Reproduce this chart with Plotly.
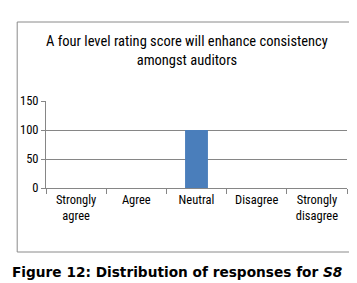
import plotly.graph_objects as go

categories = ["Strongly<br>agree", "Agree", "Neutral", "Disagree", "Strongly<br>disagree"]
values = [0, 0, 100, 0, 0]
y_ticks = [0, 50, 100, 150]
title_text = "A four level rating score will enhance consistency<br>amongst auditors"
caption_text = "<b>Figure 12: Distribution of responses for <i>S8</i></b>"

W, H = 357, 283
L, R, T, B = 36, 18, 93, 103
pw, ph = W - L - R, H - T - B

def px(x):
    return (x - L) / pw

def py(y):
    return (H - B - y) / ph

narrow = "Liberation Sans Narrow, Roboto Condensed, Arial Narrow, sans-serif"

fig = go.Figure(go.Bar(x=categories, y=values, marker_color="#4a7ebb",
                       marker_line_width=0, width=0.38))

fig.update_layout(
    width=W, height=H,
    margin=dict(l=L, r=R, t=T, b=B),
    paper_bgcolor="white", plot_bgcolor="white",
    showlegend=False,
    font=dict(family=narrow, size=12, color="black"),
)
fig.update_xaxes(showline=True, linecolor="#868686", linewidth=1,
                 ticks="outside", tickson="boundaries", ticklen=5, tickcolor="#868686",
                 tickfont=dict(family=narrow, size=12.5, color="black"), showgrid=False)
fig.update_yaxes(range=[0, 150], tickvals=y_ticks, showline=True, linecolor="#868686",
                 ticks="outside", ticklen=4, tickcolor="#868686",
                 gridcolor="#868686", gridwidth=1, zeroline=False,
                 tickfont=dict(family=narrow, size=12.5, color="black"))

fig.add_shape(type="rect", xref="paper", yref="paper",
              x0=px(7), x1=px(349), y0=py(244), y1=py(14),
              line=dict(color="#8a8a8a", width=1), layer="below")

fig.add_annotation(text=title_text, xref="paper", yref="paper",
                   x=px(178), y=py(43), xanchor="center", yanchor="middle",
                   showarrow=False, font=dict(family=narrow, size=14.5, color="black"))
fig.add_annotation(text=caption_text, xref="paper", yref="paper",
                   x=px(1), y=py(264), xanchor="left", yanchor="middle", align="left",
                   showarrow=False, borderpad=0,
                   font=dict(family="DejaVu Sans", size=13.7, color="black"))

fig.write_html("out.html")
